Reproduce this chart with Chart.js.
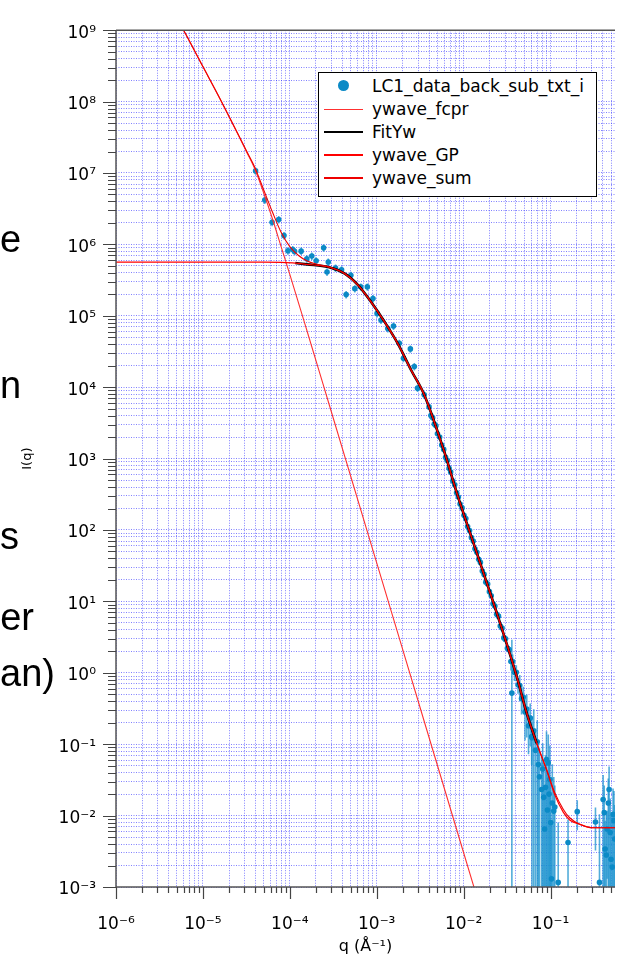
<!DOCTYPE html>
<html><head><meta charset="utf-8">
<script src="https://cdn.jsdelivr.net/npm/chart.js@4/dist/chart.umd.min.js"></script>
<style>
html,body{margin:0;padding:0;background:#fff;overflow:hidden;}
#wrap{position:relative;width:619px;height:956px;overflow:hidden;background:#fff;}
#c{position:absolute;left:0;top:0;}
.frag{position:absolute;left:0;font-family:"Liberation Sans",Arial,sans-serif;font-size:38px;line-height:38px;color:#000;white-space:nowrap;text-align:right;}
#legend{position:absolute;left:318px;top:72px;width:279px;height:125px;border:1px solid #000;background:#fff;font-family:"DejaVu Sans",sans-serif;font-size:17px;color:#000;box-sizing:border-box;}
#legend .row{position:absolute;left:0;height:22px;line-height:22px;width:100%;}
#legend .ln{position:absolute;left:5px;width:39px;}
#legend .dot{position:absolute;left:19px;top:5px;width:11px;height:11px;border-radius:50%;}
#legend .tx{position:absolute;left:53px;top:0;white-space:nowrap;}
</style></head>
<body><div id="wrap">
<canvas id="c" width="619" height="956"></canvas>
<div class="frag" style="width:21px;top:220px">e</div>
<div class="frag" style="width:20px;top:366px">n</div>
<div class="frag" style="width:12px;top:517px">s</div>
<div class="frag" style="width:34px;top:598px">er</div>
<div class="frag" style="width:50px;top:654px">an)</div>
<div id="legend"></div>
</div>
<script>
// ---------- data ----------
const seriesLabels = ['LC1_data_back_sub_txt_i','ywave_fcpr','FitYw','ywave_GP','ywave_sum'];

const xMajorTicks = [1e-6,1e-5,1e-4,1e-3,1e-2,1e-1];
const xTickLabels = ['10⁻⁶','10⁻⁵','10⁻⁴','10⁻³','10⁻²','10⁻¹'];
const yMajorTicks = [1e-3,1e-2,1e-1,1e0,1e1,1e2,1e3,1e4,1e5,1e6,1e7,1e8,1e9];
const yTickLabels = ['10⁻³','10⁻²','10⁻¹','10⁰','10¹','10²','10³','10⁴','10⁵','10⁶','10⁷','10⁸','10⁹'];

// measured data (LC1_data_back_sub_txt_i)
const qData = [
 4.04e-5,5.15e-5,6.25e-5,7.45e-5,8.57e-5,9.51e-5,1.08e-4,1.135e-4,1.35e-4,1.57e-4,
 1.79e-4,2.01e-4,2.45e-4,2.77e-4,2.68e-4,3.36e-4,3.94e-4,4.45e-4,5.04e-4,5.6e-4,
 6.55e-4,7.8e-4,9.06e-4,1.01e-3,1.12e-3,1.34e-3,1.56e-3,1.82e-3,2.03e-3,2.44e-3,
 2.71e-3,2.95e-3,3.52e-3,
 0.0040,0.0042,0.0044,0.0046,0.0048,0.0050,0.0053,0.0056,0.0059,0.0062,
 0.0065,0.0068,0.0071,0.0075,0.0079,0.0083,0.0087,0.0091,0.0096,0.0101,
 0.0106,0.0111,0.0117,0.0123,0.0129,0.0135,0.0142,0.0149,0.0156,0.0164,
 0.0172,0.0180,0.0189,0.0198,0.0208,0.0218,0.0229,0.0240,0.0252,0.0264,
 0.0277,0.0290,0.0304,0.0319,0.0334,0.0350,0.0367,0.0385,0.0404,0.0423,
 0.0443,0.0464,0.0486,0.0509,0.0533,0.0558,0.0584,0.0612,0.0641,0.0671,0.0703,
 0.0359,0.0607,0.0724,0.0789,0.0855,0.0899,0.0942,0.0982,0.1026,0.109,
 0.112,0.1225,0.159,0.203,0.329,0.366,0.403,0.425,0.448,0.472,0.497,0.524,0.548,
 0.0745,0.0812,0.0835,0.0876,0.0921,0.0963,0.1005,0.1048,0.415,0.438,0.462,0.486,0.512,0.537
];
const iData = [
 1.07e7,4.18e6,2.04e6,2.23e6,1.33e6,8.13e5,8.5e5,7.98e5,8.05e5,6.29e5,
 6.86e5,5.9e5,8.95e5,5.66e5,4.1e5,4.67e5,4.42e5,1.98e5,3.69e5,2.4e5,
 2.54e5,2.54e5,1.74e5,1.08e5,8.7e4,6.65e4,7.18e4,4.11e4,2.54e4,3.44e4,
 1.95e4,9.7e3,7.85e3,
 5300,4000,3730,3040,2890,2230,2000,1545,1346,1040,
 942,731,650,486,431,333,290,231,204,161,
 145,112,98.6,78.2,70.3,54.6,48.6,38.8,35.2,26.7,
 23.9,18.6,17.5,13.7,12.0,9.25,8.61,6.62,6.21,4.52,
 4.24,3.08,3.00,2.21,2.12,1.44,1.44,1.02,1.02,0.679,
 0.665,0.436,0.457,0.282,0.310,0.181,0.233,0.123,0.154,0.082,0.108,
 0.52,0.128,0.0518,0.0232,0.0065,0.0608,0.0547,0.032,0.0013,0.01156,
 0.01315,0.00116,0.0042,0.01135,0.00813,0.00116,0.0168,0.0034,0.0065,0.0232,0.00245,0.0104,0.0047,
 0.035,0.045,0.018,0.025,0.012,0.020,0.008,0.015,0.0110,0.0028,0.0150,0.0058,0.0019,0.0085
];
const relErr = [
 0.12,0.12,0.12,0.12,0.12,0.12,0.12,0.12,0.12,0.12,
 0.12,0.12,0.12,0.12,0.12,0.12,0.12,0.12,0.12,0.12,
 0.12,0.12,0.12,0.12,0.12,0.12,0.12,0.12,0.12,0.12,
 0.12,0.12,0.12,
 0.05,0.05,0.05,0.05,0.05,0.05,0.05,0.05,0.05,0.05,
 0.05,0.05,0.05,0.05,0.05,0.05,0.05,0.05,0.05,0.07,
 0.07,0.07,0.07,0.07,0.07,0.07,0.07,0.07,0.07,0.07,
 0.07,0.07,0.07,0.07,0.07,0.12,0.12,0.12,0.12,0.12,
 0.12,0.12,0.12,0.12,0.12,0.25,0.25,0.25,0.25,0.25,
 0.4,0.4,0.4,0.6,0.6,0.6,0.6,1.0,1.0,1.0,1.0,
 4.6,0.6,1.2,2,3,1.5,1.5,2,5,2,
 1,5.9,1.1,0.45,0.6,8,1.2,1.5,0.8,1.1,3,1.3,2,
 1.5,1.3,2,1.8,2.5,2,3,2.5,1.4,3,1.2,2,4,1.6
];

// ywave_fcpr
const qFcpr = [5.01e-6,6.31e-6,1e-5,1.585e-5,2.51e-5,3.16e-5,3.98e-5,5.01e-5,6.31e-5,7.94e-5,1e-4,1.585e-4,2.77e-4,1e-3,3.16e-3,1e-2,1.585e-2];
const iFcpr = [1.48e9,8.91e8,3.09e8,1.07e8,3.55e7,2.0e7,1.12e7,5.25e6,2.29e6,9.33e5,3.8e5,6.03e4,6310,34.7,0.324,3.02e-3,4.68e-4];

// ywave_GP
const qGP = [1e-6,1e-5,5e-5,8e-5,1.156e-4,1.585e-4,2.77e-4,4.30e-4,6.10e-4,8.59e-4,1.23e-3,1.75e-3,2.51e-3,3.52e-3,5.96e-3,8.45e-3,1.43e-2,2.12e-2,2.64e-2,4.09e-2,5.32e-2,6.92e-2,8.99e-2,0.112,0.140,0.166,0.216,0.308,0.552];
const iGP = [5.66e5,5.66e5,5.65e5,5.6e5,5.48e5,5.25e5,4.82e5,3.89e5,2.69e5,1.57e5,8.24e4,4.07e4,1.7e4,7.85e3,1.27e3,316,46.2,11.0,4.89,0.881,0.272,0.104,0.0442,0.0195,0.0112,0.0087,0.00759,0.00676,0.00676];

// FitYw
const qFit = [1.156e-4,1.585e-4,2.77e-4,4.30e-4,6.10e-4,8.59e-4,1.23e-3,1.75e-3,2.51e-3,3.52e-3,5.96e-3,8.45e-3,1.43e-2,2.12e-2,2.64e-2,4.09e-2,5.32e-2,6.92e-2];
const iFit = [5.48e5,5.25e5,4.82e5,3.89e5,2.69e5,1.57e5,8.24e4,4.07e4,1.7e4,7.85e3,1.27e3,316,46.2,11.0,4.89,0.881,0.272,0.104];

// ywave_sum
const qSum = [5.01e-6,6.31e-6,1e-5,1.585e-5,2.51e-5,3.16e-5,3.98e-5,5.01e-5,6.31e-5,7.94e-5,1e-4,1.26e-4,1.585e-4,2e-4,2.77e-4,4.30e-4,6.10e-4,8.59e-4,1.23e-3,1.75e-3,2.51e-3,3.52e-3,5.96e-3,8.45e-3,1.43e-2,2.12e-2,2.64e-2,4.09e-2,5.32e-2,6.92e-2,8.99e-2,0.112,0.140,0.166,0.216,0.308,0.552];
const iSum = [1.48e9,8.92e8,3.1e8,1.08e8,3.6e7,2.06e7,1.18e7,5.8e6,2.84e6,1.48e6,9.3e5,7.0e5,5.85e5,5.31e5,4.88e5,3.89e5,2.69e5,1.57e5,8.24e4,4.07e4,1.7e4,7.85e3,1.27e3,316,46.2,11.0,4.89,0.881,0.272,0.104,0.0442,0.0209,0.0123,0.00933,0.00759,0.00676,0.00676];

// ---------- styles ----------
const STYLE = {
  dataColor: '#0b8ac6',
  errColor: 'rgba(25,145,205,0.75)',
  lineColors: ['#0b8ac6', '#ff3030', '#000000', '#ff0000', '#ee0000'],
  lineWidths: [0, 1.1, 2.6, 1.2, 1.1],
  legendWidths: [0, 1, 2, 2, 2],
  grid: 'rgba(45,45,255,0.6)'
};

// ---------- chart ----------
const pts = (qs, is) => qs.map((q, k) => ({x: q, y: is[k]}));
const minorMult = [1,2,3,4,5,6,7,8,9];
function allTicks(majors, max) {
  const out = [];
  majors.forEach(m => minorMult.forEach(k => { const v = m * k; if (v <= max * 1.0000001) out.push(v); }));
  return out;
}
function labelFor(v, majors, labels) {
  for (let k = 0; k < majors.length; k++) if (Math.abs(v / majors[k] - 1) < 1e-6) return labels[k];
  return '';
}
const X_MIN = 1e-6, X_MAX = 0.552, Y_MIN = 1e-3, Y_MAX = 1e9;

const decor = {
  id: 'decor',
  beforeDatasetsDraw(chart) {
    const {ctx, chartArea: a, scales: {x, y}} = chart;
    ctx.save();
    ctx.beginPath(); ctx.rect(a.left, a.top, a.right - a.left, a.bottom - a.top); ctx.clip();
    ctx.strokeStyle = STYLE.errColor;
    ctx.lineWidth = 1.6;
    for (let k = 0; k < qData.length; k++) {
      const s = iData[k] * relErr[k];
      const px = x.getPixelForValue(qData[k]);
      const hi = y.getPixelForValue(iData[k] + s);
      const lo = iData[k] - s;
      const loPx = lo > 0 ? Math.min(y.getPixelForValue(lo), a.bottom) : a.bottom;
      ctx.beginPath(); ctx.moveTo(px, hi); ctx.lineTo(px, loPx); ctx.stroke();
    }
    ctx.restore();
  },
  afterDraw(chart) {
    const {ctx, chartArea: a, scales: {x, y}} = chart;
    ctx.save();
    ctx.strokeStyle = '#555';
    ctx.lineWidth = 1.5;
    ctx.beginPath();
    ctx.moveTo(a.left, a.top); ctx.lineTo(a.right, a.top);
    ctx.moveTo(a.left, a.top); ctx.lineTo(a.left, a.bottom);
    ctx.moveTo(a.left, a.bottom); ctx.lineTo(a.right, a.bottom);
    ctx.stroke();
    ctx.lineWidth = 1.2;
    ctx.strokeStyle = '#444';
    ctx.beginPath();
    x.ticks.forEach(t => {
      const major = labelFor(t.value, xMajorTicks, xTickLabels) !== '';
      const px = Math.round(x.getPixelForValue(t.value)) + 0.5;
      ctx.moveTo(px, a.bottom); ctx.lineTo(px, a.bottom + (major ? 12 : 6));
    });
    y.ticks.forEach(t => {
      const major = labelFor(t.value, yMajorTicks, yTickLabels) !== '';
      const py = Math.round(y.getPixelForValue(t.value)) + 0.5;
      ctx.moveTo(a.left, py); ctx.lineTo(a.left - (major ? 13 : 8), py);
    });
    ctx.stroke();
    ctx.restore();
  }
};

const lineDs = (k, qs, is, order) => ({
  label: seriesLabels[k], data: pts(qs, is), showLine: true, pointRadius: 0,
  borderColor: STYLE.lineColors[k], borderWidth: STYLE.lineWidths[k],
  cubicInterpolationMode: 'monotone', order: order
});

const chart = new Chart(document.getElementById('c'), {
  type: 'scatter',
  data: {
    datasets: [
      {label: seriesLabels[0], data: pts(qData, iData), showLine: false, pointRadius: 2.8,
       pointBackgroundColor: STYLE.dataColor, pointBorderWidth: 0, order: 5},
      lineDs(1, qFcpr, iFcpr, 3),
      lineDs(2, qFit, iFit, 4),
      lineDs(3, qGP, iGP, 2),
      lineDs(4, qSum, iSum, 1)
    ]
  },
  options: {
    responsive: false, animation: false, devicePixelRatio: 1,
    layout: {padding: {left: 20, top: 27, right: 0, bottom: 0}},
    plugins: {legend: {display: false}, tooltip: {enabled: false}},
    scales: {
      x: {
        type: 'logarithmic', position: 'bottom', min: X_MIN, max: X_MAX,
        afterBuildTicks: s => { s.ticks = allTicks(xMajorTicks, X_MAX).map(v => ({value: v})); },
        afterFit: s => { s.height = 69; s.paddingRight = 0; s.paddingLeft = 0; },
        grid: {color: STYLE.grid, lineWidth: 1, drawTicks: false},
        border: {display: false, dash: [1, 1.5]},
        ticks: {autoSkip: false, maxRotation: 0, padding: 27, color: '#000',
                font: {family: 'DejaVu Sans', size: 17},
                callback: v => labelFor(v, xMajorTicks, xTickLabels)},
        title: {display: true, text: 'q (Å⁻¹)', color: '#000', padding: 0,
                font: {family: 'DejaVu Sans', size: 16}}
      },
      y: {
        type: 'logarithmic', position: 'left', min: Y_MIN, max: Y_MAX,
        afterBuildTicks: s => { s.ticks = allTicks(yMajorTicks, Y_MAX).map(v => ({value: v})); },
        afterFit: s => { s.width = 96; },
        grid: {color: STYLE.grid, lineWidth: 1, drawTicks: false},
        border: {display: false, dash: [1, 1.5]},
        ticks: {autoSkip: false, padding: 20, labelOffset: 3, color: '#000',
                font: {family: 'DejaVu Sans', size: 17},
                callback: v => labelFor(v, yMajorTicks, yTickLabels)},
        title: {display: true, text: 'I(q)', color: '#000', padding: 0,
                font: {family: 'DejaVu Sans', size: 13}}
      }
    }
  },
  plugins: [decor]
});

// legend (HTML, built from the series labels/styles)
const lg = document.getElementById('legend');
seriesLabels.forEach((label, k) => {
  const row = document.createElement('div');
  row.className = 'row';
  row.style.top = Math.round(2 + k * 22.9) + 'px';
  const sw = document.createElement('div');
  if (k === 0) {
    sw.className = 'dot'; sw.style.background = STYLE.dataColor;
  } else {
    sw.className = 'ln';
    const w = STYLE.legendWidths[k];
    sw.style.top = (11 - Math.floor(w / 2)) + 'px';
    sw.style.height = w + 'px';
    sw.style.background = STYLE.lineColors[k];
  }
  const tx = document.createElement('div');
  tx.className = 'tx'; tx.textContent = label;
  row.appendChild(sw); row.appendChild(tx);
  lg.appendChild(row);
});
</script>
</body></html>
